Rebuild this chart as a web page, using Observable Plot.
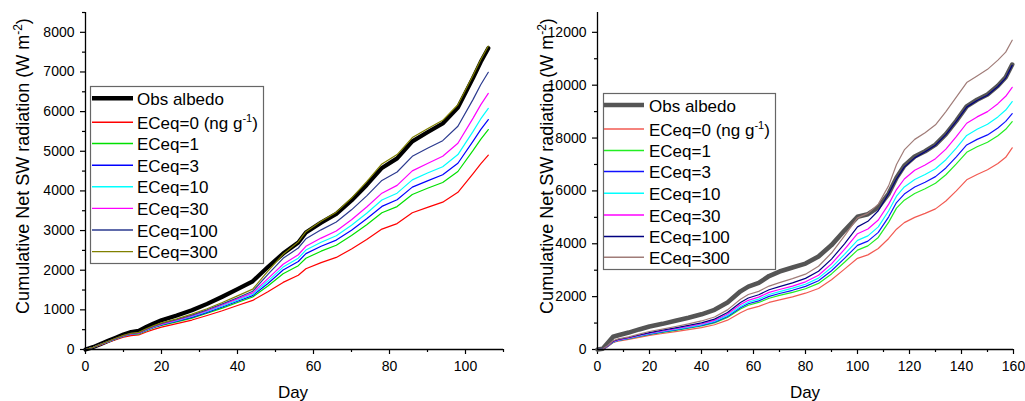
<!DOCTYPE html>
<html><head><meta charset="utf-8">
<script src="https://cdn.jsdelivr.net/npm/d3@7"></script>
<script src="https://cdn.jsdelivr.net/npm/@observablehq/plot@0.6"></script>
<style>
body{margin:0;background:#fff;}
#wrap{position:relative;width:1025px;height:401px;overflow:hidden;background:#fff;font-family:Arial,"Liberation Sans",sans-serif;}
#wrap > svg{position:absolute;top:0;}
</style></head>
<body><div id="wrap"></div>
<script>
// ---------- data ----------
const seriesNames = ["Obs albedo","ECeq=0","ECeq=1","ECeq=3","ECeq=10","ECeq=30","ECeq=100","ECeq=300"];

const leftDays = [0,2,4,6,8,10,12,14,16,18,20,24,28,32,36,40,44,48,52,56,58,62,66,70,74,78,82,86,90,94,98,102,104,106];
const leftObs   = [0,60,140,220,300,380,440,470,570,660,740,860,990,1150,1330,1520,1720,2080,2420,2700,2950,3200,3420,3760,4150,4580,4820,5250,5480,5700,6100,6850,7250,7600];
const leftEC0   = [0,51,118,183,246,308,352,367,442,508,566,654,743,857,978,1110,1238,1456,1692,1871,2036,2192,2322,2534,2772,3037,3176,3449,3584,3716,3965,4439,4684,4902];
const leftEC1   = [0,54,125,194,263,329,378,395,476,548,607,697,792,914,1044,1186,1324,1602,1909,2114,2301,2480,2630,2873,3146,3449,3605,3911,4066,4212,4490,5021,5300,5548];
const leftEC3   = [0,55,127,198,269,336,387,404,487,561,622,714,812,937,1071,1216,1359,1664,2004,2219,2419,2605,2760,3008,3300,3609,3779,4095,4252,4406,4697,5254,5546,5799];
const leftEC10  = [0,56,129,200,272,340,392,409,493,568,633,727,832,960,1097,1246,1393,1726,2079,2303,2508,2704,2869,3136,3436,3769,3943,4279,4450,4611,4917,5501,5815,6080];
const leftEC30  = [0,56,130,202,275,344,396,414,499,574,640,740,846,978,1124,1277,1428,1789,2151,2390,2602,2810,2989,3271,3594,3943,4140,4505,4691,4874,5203,5836,6170,6460];
const leftEC100 = [0,58,133,207,281,352,405,423,510,587,655,757,866,1001,1150,1307,1471,1893,2299,2560,2791,3018,3215,3523,3876,4264,4478,4872,5074,5267,5630,6309,6677,6992];
const leftEC300 = [0,58,134,209,284,355,409,432,522,601,670,774,891,1029,1184,1353,1522,1976,2401,2714,2971,3232,3464,3820,4233,4681,4916,5345,5568,5780,6173,6919,7308,7653];

const rightDays = [0,2,4,6,8,12,16,20,25,30,35,40,45,50,55,58,62,66,70,75,80,85,90,95,100,104,108,112,115,118,122,126,130,134,138,142,146,150,154,157,159.5];
const rightObs   = [0,30,250,480,540,640,760,870,970,1090,1200,1330,1500,1780,2200,2380,2520,2780,2950,3100,3250,3520,3950,4500,5020,5120,5380,5900,6500,6950,7300,7500,7750,8150,8650,9200,9450,9650,9980,10300,10780];
const rightEC0   = [0,11,115,260,320,385,460,535,605,678,750,825,935,1110,1390,1530,1630,1780,1880,1990,2130,2310,2640,3040,3450,3580,3820,4200,4550,4800,5000,5150,5320,5620,6000,6420,6620,6800,7040,7270,7630];
const rightEC1   = [0,12,124,277,340,410,492,570,648,726,804,888,1008,1215,1530,1675,1780,1940,2045,2160,2300,2500,2860,3300,3760,3920,4240,4820,5350,5650,5900,6080,6290,6610,7020,7460,7670,7840,8090,8330,8620];
const rightEC3   = [0,13,127,283,347,418,503,583,663,743,823,910,1035,1250,1580,1730,1840,2010,2120,2240,2390,2600,2980,3450,3940,4100,4430,5020,5560,5880,6150,6330,6540,6870,7290,7740,7950,8120,8380,8630,8920];
const rightEC10  = [0,13,130,290,355,428,515,598,680,762,845,935,1065,1290,1630,1790,1905,2080,2190,2320,2470,2700,3100,3600,4130,4300,4640,5250,5800,6150,6430,6620,6840,7180,7620,8100,8330,8520,8800,9060,9380];
const rightEC30  = [0,14,135,300,365,440,530,615,700,785,870,965,1100,1340,1700,1860,1980,2160,2270,2400,2560,2810,3240,3790,4380,4560,4900,5500,6050,6450,6780,6980,7220,7580,8050,8560,8800,9000,9300,9580,9920];
const rightEC100 = [0,15,140,310,380,455,550,640,730,820,910,1010,1150,1400,1780,1950,2070,2260,2380,2520,2690,2960,3420,4000,4640,4850,5250,5900,6450,6900,7250,7480,7730,8130,8630,9170,9420,9620,9950,10270,10750];
const rightEC300 = [0,15,150,330,400,480,580,680,770,870,970,1080,1230,1500,1900,2080,2200,2400,2530,2680,2850,3150,3650,4300,4980,5150,5500,6200,7000,7550,7950,8200,8500,9000,9550,10100,10350,10600,10950,11250,11700];

const leftXTicks  = [0,20,40,60,80,100];
const leftXMinor  = [10,30,50,70,90,110];
const leftYTicks  = [0,1000,2000,3000,4000,5000,6000,7000,8000];
const leftYMinor  = [500,1500,2500,3500,4500,5500,6500,7500,8500];
const rightXTicks = [0,20,40,60,80,100,120,140,160];
const rightXMinor = [10,30,50,70,90,110,130,150];
const rightYTicks = [0,2000,4000,6000,8000,10000,12000];
const rightYMinor = [1000,3000,5000,7000,9000,11000];

const leftColors  = ["#000000","#ff0000","#00e000","#0000ff","#00ffff","#ff00ff","#2b3a8f","#808000"];
const rightColors = ["#555555","#f25a52","#22ee22","#1010ff","#00ffff","#ff00ff","#000080","#a07c78"];

// ---------- drawing ----------
const wrap = document.getElementById("wrap");

function panel(o){
  const marks = [];
  o.series.forEach((vals,k)=>{
    const d = o.days.map((day,i)=>({day, value: vals[i]}));
    marks.push(Plot.line(d,{x:"day",y:"value",stroke:o.colors[k],strokeWidth:k===0?o.obsWidth:1.2,strokeLinejoin:"round",strokeLinecap:"round"}));
  });
  const svg = Plot.plot({
    width:o.width, height:401, marginLeft:o.marginLeft, marginRight:12, marginTop:12, marginBottom:52,
    x:{domain:o.xDomain}, y:{domain:o.yDomain},
    style:{fontFamily:"Arial, 'Liberation Sans', sans-serif", fontSize:"14px", color:"#000", background:"transparent"},
    marks:[
      Plot.axisX(o.xTicks,{tickSize:5,tickPadding:7,fontSize:14,label:null,stroke:"#000",strokeWidth:1.2}),
      Plot.axisX(o.xMinor,{tickSize:3,tickFormat:()=>"",label:null,stroke:"#000",strokeWidth:1.2}),
      Plot.axisY(o.yTicks,{tickSize:5,tickPadding:6,fontSize:14,label:null,stroke:"#000",strokeWidth:1.2,tickFormat:d=>String(d)}),
      Plot.axisY(o.yMinor,{tickSize:3,tickFormat:()=>"",label:null,stroke:"#000",strokeWidth:1.2}),
      ...marks,
      Plot.ruleX([0],{stroke:"#000",strokeWidth:1.3}),
      Plot.ruleY([0],{stroke:"#000",strokeWidth:1.3})
    ]
  });
  svg.style.left = o.left+"px";
  wrap.appendChild(svg);
}

panel({left:0,width:515,marginLeft:85,days:leftDays,
  series:[leftObs,leftEC0,leftEC1,leftEC3,leftEC10,leftEC30,leftEC100,leftEC300],
  colors:leftColors,obsWidth:4.2,xDomain:[0,110],yDomain:[0,8500],
  xTicks:leftXTicks,xMinor:leftXMinor,yTicks:leftYTicks,yMinor:leftYMinor});

panel({left:510,width:515,marginLeft:87,days:rightDays,
  series:[rightObs,rightEC0,rightEC1,rightEC3,rightEC10,rightEC30,rightEC100,rightEC300],
  colors:rightColors,obsWidth:4.6,xDomain:[0,160],yDomain:[0,12750],
  xTicks:rightXTicks,xMinor:rightXMinor,yTicks:rightYTicks,yMinor:rightYMinor});

// ---------- overlay: axis titles and legends ----------
const ov = d3.select(wrap).append("svg").attr("width",1025).attr("height",401)
  .style("left","0px").style("font-family","Arial, 'Liberation Sans', sans-serif");

function yTitle(x){
  const t = ov.append("text").attr("transform",`translate(${x},166) rotate(-90)`)
    .attr("text-anchor","middle").attr("font-size",18).attr("fill","#000");
  t.append("tspan").text("Cumulative Net SW radiation (W m");
  t.append("tspan").attr("dy",-7).attr("font-size",12).text("-2");
  t.append("tspan").attr("dy",7).text(")");
}
yTitle(29); yTitle(553);
ov.append("text").attr("x",293).attr("y",398).attr("text-anchor","middle").attr("font-size",17).text("Day");
ov.append("text").attr("x",805).attr("y",398).attr("text-anchor","middle").attr("font-size",17).text("Day");

function legend(o){
  ov.append("rect").attr("x",o.x+0.5).attr("y",o.y+0.5).attr("width",o.w).attr("height",o.h)
    .attr("fill","#fff").attr("stroke","#666").attr("stroke-width",1.2);
  seriesNames.forEach((name,i)=>{
    const cy = o.rows[i];
    ov.append("line").attr("x1",o.l1).attr("x2",o.l2).attr("y1",cy).attr("y2",cy)
      .attr("stroke",o.colors[i]).attr("stroke-width",i===0?o.obsWidth:1.4);
    const t = ov.append("text").attr("x",o.tx).attr("y",cy+6.5).attr("font-size",17).attr("fill","#000");
    if(i===1){
      t.append("tspan").text(name+" (ng g");
      t.append("tspan").attr("dy",-7).attr("font-size",11).text("-1");
      t.append("tspan").attr("dy",7).text(")");
    } else t.text(name);
  });
}
legend({x:90,y:86,w:173,h:177,l1:92,l2:133,tx:137,obsWidth:4.5,colors:leftColors,
  rows:[98.3,122.3,143.5,165.3,186.8,208.4,230,251.6]});
legend({x:603,y:93,w:172,h:176,l1:604,l2:644,tx:649,obsWidth:4.5,colors:rightColors,
  rows:[105,129,150.5,171.5,193.3,215,236.5,257.3]});
</script>
</body></html>
